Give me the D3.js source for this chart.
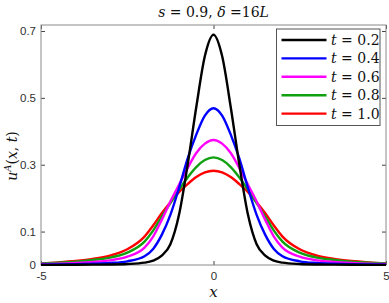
<!DOCTYPE html>
<html>
<head>
<meta charset="utf-8">
<script src="https://cdn.jsdelivr.net/npm/d3@7"></script>
<style>
  body { margin: 0; background: #fff; }
  svg { display: block; }
</style>
</head>
<body>
<div id="graphicContainer"></div>
<script>
// values
var xs = [-5, -4.5, -4, -3.5, -3, -2.5, -2, -1.75, -1.5, -1.25, -1, -0.75, -0.5, -0.25, 0,
          0.25, 0.5, 0.75, 1, 1.25, 1.5, 1.75, 2, 2.5, 3, 3.5, 4, 4.5, 5]

var t02 = [0.0004, 0.0005, 0.0007, 0.001, 0.0015, 0.003, 0.007, 0.013, 0.028, 0.062, 0.15, 0.30, 0.472, 0.625, 0.689,
           0.625, 0.472, 0.30, 0.15, 0.062, 0.028, 0.013, 0.007, 0.003, 0.0015, 0.001, 0.0007, 0.0005, 0.0004]
var t04 = [0.0012, 0.0017, 0.0025, 0.0038, 0.006, 0.011, 0.026, 0.048, 0.09, 0.15, 0.23, 0.318, 0.39, 0.447, 0.469,
           0.447, 0.39, 0.318, 0.23, 0.15, 0.09, 0.048, 0.026, 0.011, 0.006, 0.0038, 0.0025, 0.0017, 0.0012]
var t06 = [0.003, 0.004, 0.006, 0.009, 0.014, 0.025, 0.052, 0.085, 0.135, 0.19, 0.24, 0.29, 0.335, 0.363, 0.374,
           0.363, 0.335, 0.29, 0.24, 0.19, 0.135, 0.085, 0.052, 0.025, 0.014, 0.009, 0.006, 0.004, 0.003]
var t08 = [0.005, 0.007, 0.01, 0.015, 0.022, 0.037, 0.07, 0.103, 0.145, 0.185, 0.225, 0.262, 0.293, 0.314, 0.322,
           0.314, 0.293, 0.262, 0.225, 0.185, 0.145, 0.103, 0.07, 0.037, 0.022, 0.015, 0.01, 0.007, 0.005]
var t10 = [0.005, 0.008, 0.012, 0.018, 0.028, 0.047, 0.085, 0.118, 0.155, 0.188, 0.218, 0.242, 0.263, 0.277, 0.282,
           0.277, 0.263, 0.242, 0.218, 0.188, 0.155, 0.118, 0.085, 0.047, 0.028, 0.018, 0.012, 0.008, 0.005]

var seriesNames = ["0.2", "0.4", "0.6", "0.8", "1.0"]
var seriesColors = ["#000000", "#0000ff", "#ff00ff", "#10a010", "#ff0000"]
var xTicks = [-5, 0, 5]
var xTickLabels = ["-5", "0", "5"]
var yTicks = [0, 0.1, 0.3, 0.5, 0.7]
var yTickLabels = ["0", "0.1", "0.3", "0.5", "0.7"]

var width = 389, height = 303
var margin = {top: 25, right: 3, bottom: 38, left: 41}

var svg = d3.select("#graphicContainer").append("svg")
	.attr("width", width)
	.attr("height", height)

var x = d3.scaleLinear()
	.domain([-5, 5])
	.range([margin.left, width - margin.right])

var y = d3.scaleLinear()
	.domain([0, 0.718])
	.range([height - margin.bottom, margin.top])

var axisColor = "#8a8a8a"
var labelColor = "#303030"

// axes, ticks point inward like the original
svg.append("g")
	.attr("transform", `translate(0,${y(0)})`)
	.call(d3.axisBottom(x).tickValues(xTicks).tickSizeInner(-4).tickSizeOuter(0).tickPadding(6.5)
		.tickFormat((d, i) => xTickLabels[i]))
	.call(g => g.select(".domain").remove())

svg.append("g")
	.attr("transform", `translate(${x(-5)},0)`)
	.call(d3.axisLeft(y).tickValues(yTicks).tickSizeInner(-4).tickSizeOuter(0).tickPadding(5)
		.tickFormat((d, i) => yTickLabels[i]))
	.call(g => g.select(".domain").remove())

svg.append("g")
	.attr("transform", `translate(0,${y.range()[1]})`)
	.call(d3.axisTop(x).tickValues(xTicks).tickSizeInner(-4).tickSizeOuter(0).tickFormat(""))
	.call(g => g.select(".domain").remove())

svg.append("g")
	.attr("transform", `translate(${x(5)},0)`)
	.call(d3.axisRight(y).tickValues(yTicks).tickSizeInner(-4).tickSizeOuter(0).tickFormat(""))
	.call(g => g.select(".domain").remove())

svg.selectAll(".tick line").attr("stroke", "#444")
svg.selectAll(".tick text")
	.attr("font-family", "'Liberation Sans', Arial, sans-serif")
	.attr("font-size", 11.5)
	.attr("fill", labelColor)

// box
svg.append("rect")
	.attr("x", x(-5))
	.attr("y", y.range()[1])
	.attr("width", x(5) - x(-5))
	.attr("height", y(0) - y.range()[1])
	.attr("fill", "none")
	.attr("stroke", axisColor)
	.attr("stroke-width", 1)

var line = d3.line()
	.curve(d3.curveMonotoneX)
	.x((d, i) => x(xs[i]))
	.y(d => y(d))

var allSeries = [t02, t04, t06, t08, t10]

svg.append("defs").append("clipPath").attr("id", "clip")
	.append("rect")
	.attr("x", x(-5)).attr("y", y.range()[1])
	.attr("width", x(5) - x(-5)).attr("height", y(0) - y.range()[1] + 2)

var lines = svg.append("g").attr("clip-path", "url(#clip)")

allSeries.slice().reverse().forEach((s, k) => {
	var i = allSeries.length - 1 - k
	lines.append("path")
		.datum(s)
		.attr("fill", "none")
		.attr("stroke", seriesColors[i])
		.attr("stroke-width", 2.4)
		.attr("stroke-linejoin", "round")
		.attr("d", line)
})

var mathFont = "'DejaVu Serif', 'Liberation Serif', serif"

// title
var title = svg.append("text")
	.attr("x", x(0))
	.attr("y", 17)
	.attr("text-anchor", "middle")
	.attr("font-family", mathFont)
	.attr("font-size", 14)
	.attr("fill", "#111")
title.append("tspan").attr("font-style", "italic").text("s")
title.append("tspan").text(" = 0.9, ")
title.append("tspan").attr("font-style", "italic").text("δ")
title.append("tspan").text(" =16")
title.append("tspan").attr("font-style", "italic").text("L")

// x label
svg.append("text")
	.attr("x", x(0))
	.attr("y", 297)
	.attr("text-anchor", "middle")
	.attr("font-family", mathFont)
	.attr("font-style", "italic")
	.attr("font-size", 15)
	.attr("fill", "#111")
	.text("x")

// y label
var ylab = svg.append("text")
	.attr("transform", "translate(17,156) rotate(-90)")
	.attr("text-anchor", "middle")
	.attr("font-family", mathFont)
	.attr("font-size", 14)
	.attr("fill", "#111")
ylab.append("tspan").attr("font-style", "italic").text("u")
ylab.append("tspan").attr("font-style", "italic").attr("font-size", 10).attr("dy", -6).text("A")
ylab.append("tspan").attr("dy", 6).text("(")
ylab.append("tspan").attr("font-style", "italic").text("x")
ylab.append("tspan").text(", ")
ylab.append("tspan").attr("font-style", "italic").text("t")
ylab.append("tspan").text(")")

// legend
var legend = svg.append("g")
legend.append("rect")
	.attr("x", 276.5)
	.attr("y", 29)
	.attr("width", 103.5)
	.attr("height", 96.5)
	.attr("fill", "#fff")
	.attr("stroke", "#555")
	.attr("stroke-width", 1)

seriesNames.forEach((name, i) => {
	var ly = 40 + i * 18.4
	legend.append("line")
		.attr("x1", 281.5).attr("x2", 326.5)
		.attr("y1", ly).attr("y2", ly)
		.attr("stroke", seriesColors[i])
		.attr("stroke-width", 2.4)
	var lt = legend.append("text")
		.attr("x", 331)
		.attr("y", ly + 5)
		.attr("font-family", mathFont)
		.attr("font-size", 14)
		.attr("fill", "#111")
	lt.append("tspan").attr("font-style", "italic").text("t")
	lt.append("tspan").text(" = " + name)
})
</script>
</body>
</html>
